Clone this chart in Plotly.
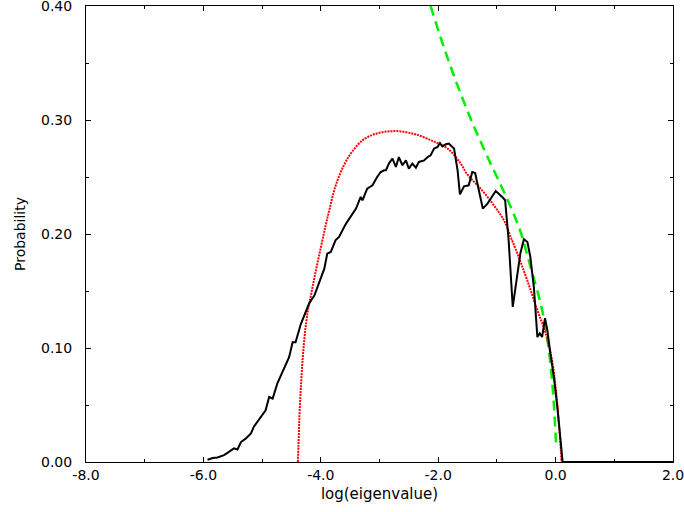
import plotly.graph_objects as go

# Empirical histogram (black solid)
emp_x = [-5.93, -5.84, -5.76, -5.70, -5.65, -5.59, -5.53, -5.48, -5.42, -5.36,
         -5.28, -5.19, -5.14, -5.08, -5.02, -4.94, -4.88, -4.82, -4.74, -4.65,
         -4.60, -4.54, -4.48, -4.43, -4.34, -4.26, -4.20, -4.11, -4.03, -3.94,
         -3.89, -3.83, -3.75, -3.69, -3.57, -3.49, -3.40, -3.32, -3.29, -3.21,
         -3.12, -3.04, -2.98, -2.92, -2.89, -2.84, -2.78, -2.72, -2.67, -2.61,
         -2.55, -2.50, -2.44, -2.38, -2.33, -2.24, -2.18, -2.13, -2.07, -2.01,
         -1.97, -1.93, -1.87, -1.82, -1.73, -1.67, -1.63, -1.56, -1.48, -1.42,
         -1.37, -1.32, -1.24, -1.16, -1.02, -0.91, -0.86, -0.80, -0.73, -0.60,
         -0.54, -0.48, -0.43, -0.37, -0.31, -0.27, -0.23, -0.18, -0.14, -0.09,
         -0.03, 0.03, 0.07, 0.10, 0.12, 2.00]
emp_y = [0.002, 0.0035, 0.004, 0.005, 0.006, 0.008, 0.010, 0.012, 0.011, 0.0175,
         0.0205, 0.025, 0.031, 0.035, 0.039, 0.0454, 0.057, 0.0556, 0.069, 0.080,
         0.085, 0.092, 0.105, 0.105, 0.121, 0.132, 0.139, 0.146, 0.1565, 0.1696,
         0.1828, 0.1842, 0.1945, 0.1974, 0.2091, 0.2149, 0.2223, 0.2325, 0.2296, 0.2398,
         0.2427, 0.250, 0.2544, 0.2559, 0.2559, 0.2618, 0.2661, 0.2588, 0.2675, 0.2603,
         0.2646, 0.2574, 0.2618, 0.2582, 0.2632, 0.2646, 0.2675, 0.269, 0.2749, 0.2763,
         0.2798, 0.2769, 0.2787, 0.2793, 0.2749, 0.2559, 0.2348, 0.2418, 0.2427, 0.2544,
         0.2535, 0.2412, 0.2223, 0.2267, 0.2377, 0.2325, 0.2296, 0.1945, 0.136, 0.1831,
         0.1954, 0.193, 0.1798, 0.1532, 0.1096, 0.1129, 0.1096, 0.1261, 0.1155, 0.0954,
         0.0746, 0.0482, 0.0252, 0.0076, 0.0, 0.0]

# Theoretical density (red dotted)
mp_x = [-4.39, -4.38, -4.37, -4.36, -4.34, -4.31, -4.28, -4.25, -4.22, -4.18,
        -4.10, -4.00, -3.92, -3.85, -3.75, -3.60, -3.44, -3.27, -3.06, -2.85,
        -2.64, -2.36, -2.07, -1.84, -1.62, -1.50, -1.28, -1.05, -0.88, -0.77,
        -0.63, -0.48, -0.31, -0.17, -0.06, 0.00, 0.06, 0.09, 0.10]
mp_y = [0.0, 0.015, 0.03, 0.045, 0.065, 0.09, 0.108, 0.122, 0.133, 0.143,
        0.164, 0.188, 0.207, 0.222, 0.242, 0.261, 0.274, 0.283, 0.288, 0.290,
        0.290, 0.287, 0.281, 0.275, 0.262, 0.252, 0.240, 0.225, 0.212, 0.198,
        0.180, 0.159, 0.133, 0.113, 0.089, 0.066, 0.031, 0.010, 0.0]

# Asymptotic curve (green dashed)
asy_x = [-2.13, -1.96, -1.79, -1.62, -1.45, -1.28, -1.11, -0.94, -0.77, -0.60,
         -0.43, -0.26, -0.17, -0.085, -0.034, 0.009]
asy_y = [0.400, 0.3725, 0.3471, 0.3234, 0.3015, 0.2813, 0.2621, 0.2436, 0.2243, 0.2024,
         0.1716, 0.1401, 0.1173, 0.0848, 0.0541, 0.0147]

y_ticks = [0.0, 0.1, 0.2, 0.3, 0.4]
y_minor = [0.05, 0.15, 0.25, 0.35]
x_ticks = [-8, -6, -4, -2, 0, 2]
x_minor = [-7, -5, -3, -1, 1]

fig = go.Figure()
fig.add_trace(go.Scatter(x=asy_x, y=asy_y, mode="lines", line_shape="spline",
                         line=dict(color="#00ee00", width=2.5, dash="10px,6px")))
fig.add_trace(go.Scatter(x=mp_x, y=mp_y, mode="lines", line_shape="spline",
                         line=dict(color="#ff0000", width=2, dash="2px,1px")))
fig.add_trace(go.Scatter(x=emp_x, y=emp_y, mode="lines",
                         line=dict(color="#000000", width=2)))

font_family = "DejaVu Sans, sans-serif"
fig.update_layout(
    width=684, height=512,
    margin=dict(l=86, r=11, t=6, b=50),
    plot_bgcolor="white", paper_bgcolor="white",
    showlegend=False,
    font=dict(family=font_family, size=14, color="black"),
    xaxis=dict(
        range=[-8, 2], tickmode="array", tickvals=x_ticks,
        ticktext=[f"{v:.1f}" for v in x_ticks],
        ticks="inside", ticklen=5, tickcolor="black",
        minor=dict(tickmode="array", tickvals=x_minor, ticks="inside",
                   ticklen=3, tickcolor="black"),
        showline=True, linecolor="black", linewidth=1, mirror="ticks",
        showgrid=False, zeroline=False, automargin=False,
        ticklabeloverflow="allow",
        title=dict(text="log(eigenvalue)", standoff=6, font=dict(size=15)),
        tickfont=dict(size=14),
    ),
    yaxis=dict(
        range=[0, 0.4], tickmode="array", tickvals=y_ticks,
        ticktext=[f"{v:.2f}" for v in y_ticks],
        ticks="inside", ticklen=5, tickcolor="black",
        minor=dict(tickmode="array", tickvals=y_minor, ticks="inside",
                   ticklen=3, tickcolor="black"),
        showline=True, linecolor="black", linewidth=1, mirror="ticks",
        showgrid=False, zeroline=False, automargin=False,
        ticklabeloverflow="allow",
        title=dict(text="Probability", standoff=12, font=dict(size=14)),
        tickfont=dict(size=14), ticklabelstandoff=10,
    ),
)

fig.write_html(
    "out.html",
    config={"displayModeBar": False},
    post_script="document.body.style.margin='0';document.body.style.overflow='hidden';",
)
